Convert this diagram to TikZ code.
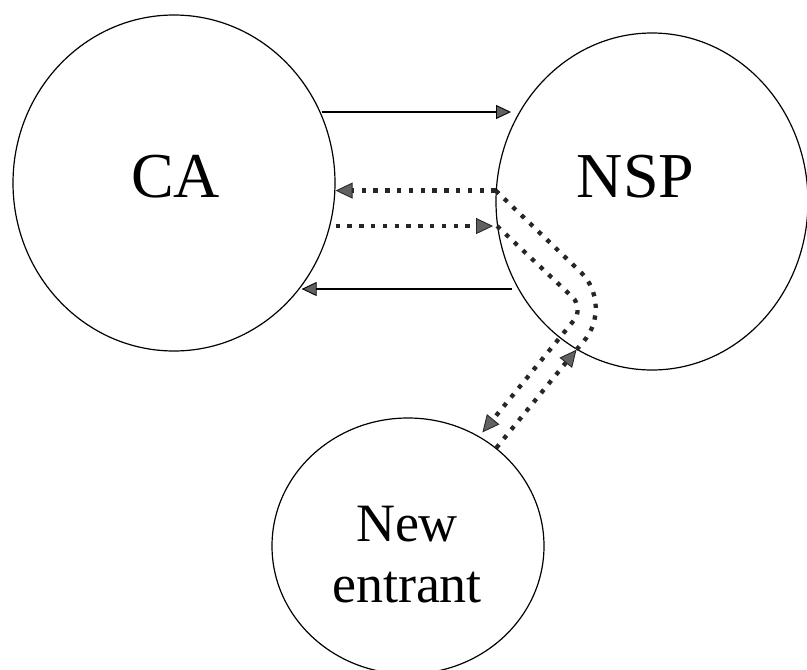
\documentclass[tikz,border=0pt]{standalone}
\usepackage{fontspec}
\setmainfont{Liberation Serif}
\usetikzlibrary{shapes.geometric,arrows.meta}

\begin{document}
\begin{tikzpicture}[x=1pt,y=-1pt,
  party/.style={ellipse, draw, line width=1.2pt, inner sep=0pt},
  bigname/.style={font=\fontsize{64}{64}\selectfont, inner sep=0pt},
  smallname/.style={font=\fontsize{54}{61}\selectfont, inner sep=0pt, align=center},
  graytip/.tip={Triangle[length=15pt, width=14pt, line width=0.9pt, fill=black!62]},
  bigtip/.tip={Triangle[length=17pt, width=16pt, line width=0.9pt, fill=black!62]},
  flow/.style={line width=1.1pt, -graytip},
  dots/.style={line width=4.3pt, black!85, dash pattern=on 4.3pt off 7.5pt},
  dotflow/.style={dots, -bigtip}
]
  % canvas
  \fill[white] (0,0) rectangle (807,670);
  \useasboundingbox (0,0) rectangle (807,670);

  % the three parties
  \node[party, minimum width=322pt, minimum height=336pt] (ca)  at (174,183) {};
  \node[party, minimum width=312pt, minimum height=337pt] (nsp) at (652,201.5) {};
  \node[party, minimum width=272pt, minimum height=256pt] (ne)  at (408,546) {};

  \node[bigname, anchor=base]  (calbl)  at (175.5,197) {CA};
  \node[bigname, anchor=base]  (nsplbl) at (635.5,197) {NSP};
  \node[smallname, anchor=north] (nelbl) at (407,506) {New\\entrant};

  % helper points for the connectors
  \coordinate (tipA)  at (511,112);
  \coordinate (startD) at (512,289);
  \coordinate (k1) at (615,305);
  \coordinate (k2) at (584,308);

  % solid arrows between CA and NSP
  \draw[flow] (ca.25.9 |- tipA) -- (tipA);
  \draw[flow] (startD) -- (ca.-39.2 |- startD);

  % dotted route: New entrant -> NSP -> CA
  \draw[dotflow] (ne.48) -- (nsp.243.4);
  \draw[dots, rounded corners=48pt] (nsp.243.4) -- (k1) -- (nsp.176.5);
  \draw[dotflow] (nsp.176.5) -- (nsp.176.5 -| ca.east);

  % dotted route: CA -> NSP -> New entrant
  \draw[dotflow, shorten >=4pt] (ca.east |- nsp.189) -- (nsp.189);
  \draw[dotflow, rounded corners=16pt, shorten >=5pt] (nsp.189) -- (k2) -- (ne.57);
\end{tikzpicture}
\end{document}
